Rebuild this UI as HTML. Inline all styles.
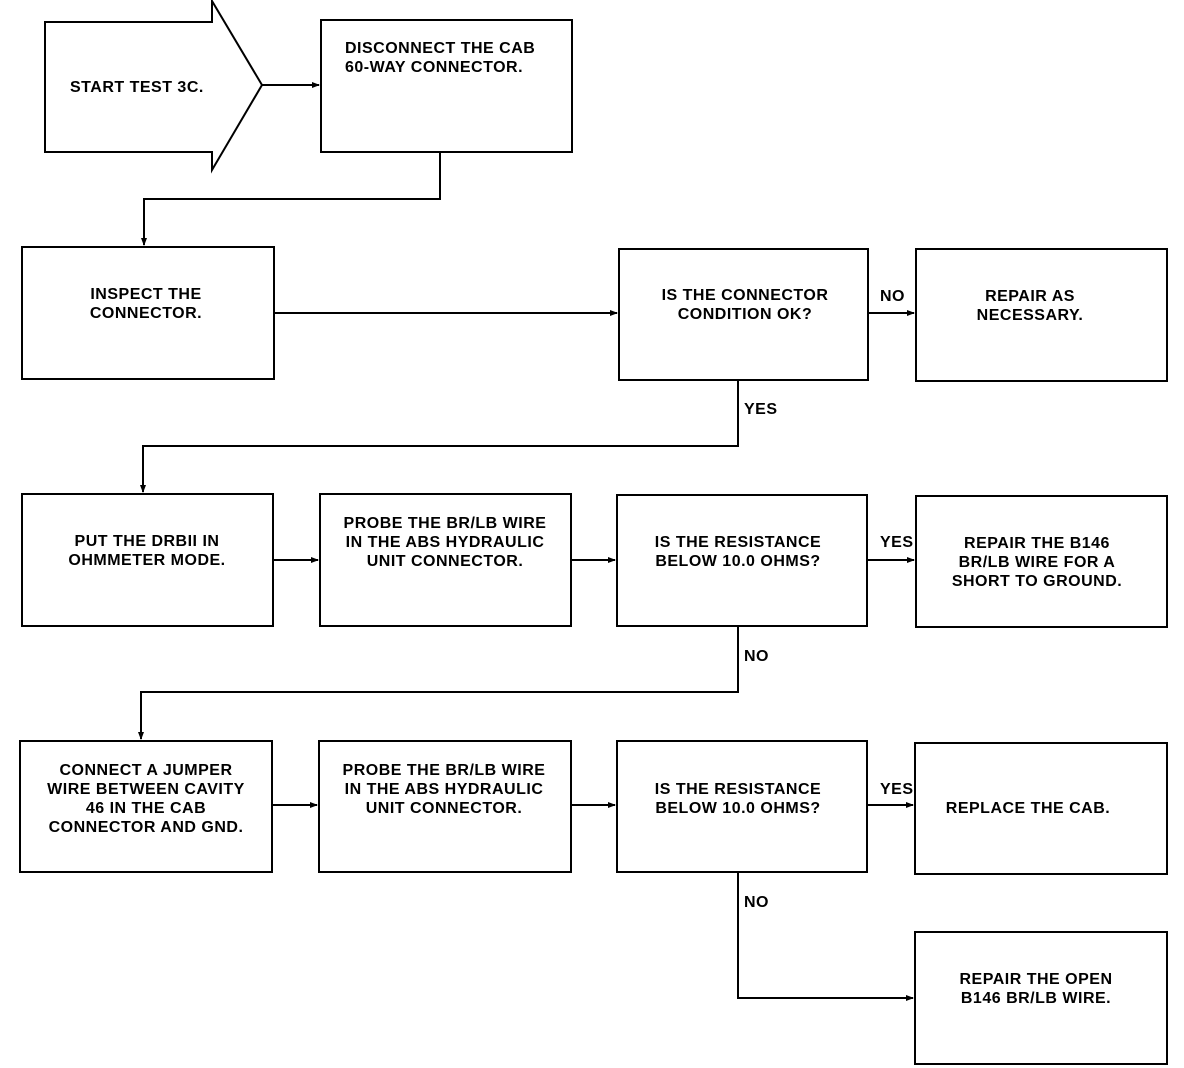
<!DOCTYPE html>
<html><head><meta charset="utf-8"><style>
html,body{margin:0;padding:0;background:#fff;}
svg{display:block;}
text{font-family:"Liberation Sans",sans-serif;font-weight:bold;font-size:16px;fill:#000;letter-spacing:0.5px;}
</style></head><body>
<svg width="1184" height="1068" viewBox="0 0 1184 1068" xmlns="http://www.w3.org/2000/svg">
<defs><marker id="a" markerWidth="8" markerHeight="8" refX="7" refY="4" orient="auto" markerUnits="userSpaceOnUse"><path d="M0,1 L8,4 L0,7 z" fill="#000"/></marker></defs>
<g fill="none" stroke="#000" stroke-width="2">
<path d="M45,22 H212 V1 L262,85 L212,170 V152 H45 Z"/>
<rect x="321" y="20" width="251" height="132"/>
<rect x="22" y="247" width="252" height="132"/>
<rect x="619" y="249" width="249" height="131"/>
<rect x="916" y="249" width="251" height="132"/>
<rect x="22" y="494" width="251" height="132"/>
<rect x="320" y="494" width="251" height="132"/>
<rect x="617" y="495" width="250" height="131"/>
<rect x="916" y="496" width="251" height="131"/>
<rect x="20" y="741" width="252" height="131"/>
<rect x="319" y="741" width="252" height="131"/>
<rect x="617" y="741" width="250" height="131"/>
<rect x="915" y="743" width="252" height="131"/>
<rect x="915" y="932" width="252" height="132"/>
<path d="M262,85 H319" marker-end="url(#a)"/>
<path d="M440,152 V199 H144 V245" marker-end="url(#a)"/>
<path d="M274,313 H617" marker-end="url(#a)"/>
<path d="M868,313 H914" marker-end="url(#a)"/>
<path d="M738,380 V446 H143 V492" marker-end="url(#a)"/>
<path d="M273,560 H318" marker-end="url(#a)"/>
<path d="M571,560 H615" marker-end="url(#a)"/>
<path d="M867,560 H914" marker-end="url(#a)"/>
<path d="M738,626 V692 H141 V739" marker-end="url(#a)"/>
<path d="M272,805 H317" marker-end="url(#a)"/>
<path d="M571,805 H615" marker-end="url(#a)"/>
<path d="M867,805 H913" marker-end="url(#a)"/>
<path d="M738,872 V998 H913" marker-end="url(#a)"/>
</g>
<text x="70" y="92">START TEST 3C.</text>
<text x="345" y="53">DISCONNECT THE CAB</text>
<text x="345" y="72">60-WAY CONNECTOR.</text>
<g text-anchor="middle">
<text x="146" y="299">INSPECT THE</text>
<text x="146" y="318">CONNECTOR.</text>
<text x="745" y="300">IS THE CONNECTOR</text>
<text x="745" y="319">CONDITION OK?</text>
<text x="1030" y="301">REPAIR AS</text>
<text x="1030" y="320">NECESSARY.</text>
<text x="147" y="546">PUT THE DRBII IN</text>
<text x="147" y="565">OHMMETER MODE.</text>
<text x="445" y="528">PROBE THE BR/LB WIRE</text>
<text x="445" y="547">IN THE ABS HYDRAULIC</text>
<text x="445" y="566">UNIT CONNECTOR.</text>
<text x="738" y="547">IS THE RESISTANCE</text>
<text x="738" y="566">BELOW 10.0 OHMS?</text>
<text x="1037" y="548">REPAIR THE B146</text>
<text x="1037" y="567">BR/LB WIRE FOR A</text>
<text x="1037" y="586">SHORT TO GROUND.</text>
<text x="146" y="775">CONNECT A JUMPER</text>
<text x="146" y="794">WIRE BETWEEN CAVITY</text>
<text x="146" y="813">46 IN THE CAB</text>
<text x="146" y="832">CONNECTOR AND GND.</text>
<text x="444" y="775">PROBE THE BR/LB WIRE</text>
<text x="444" y="794">IN THE ABS HYDRAULIC</text>
<text x="444" y="813">UNIT CONNECTOR.</text>
<text x="738" y="794">IS THE RESISTANCE</text>
<text x="738" y="813">BELOW 10.0 OHMS?</text>
<text x="1028" y="813">REPLACE THE CAB.</text>
<text x="1036" y="984">REPAIR THE OPEN</text>
<text x="1036" y="1003">B146 BR/LB WIRE.</text>
</g>
<text x="880" y="301">NO</text>
<text x="744" y="414">YES</text>
<text x="880" y="547">YES</text>
<text x="744" y="661">NO</text>
<text x="880" y="794">YES</text>
<text x="744" y="907">NO</text>
</svg>
</body></html>
